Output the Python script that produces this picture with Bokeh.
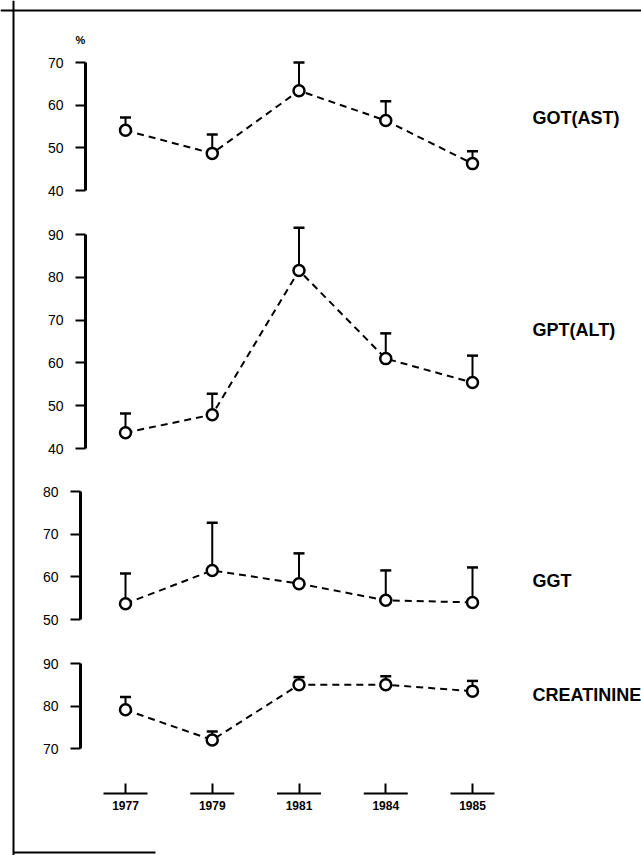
from bokeh.plotting import figure
from bokeh.models import Range1d, LinearAxis, FixedTicker, Span
from bokeh.core.properties import value
from bokeh.embed import file_html
from bokeh.resources import INLINE

# ---------------- data ----------------
years = ["1977", "1979", "1981", "1984", "1985"]
got = [54.1, 48.7, 63.4, 56.4, 46.3]
got_err = [3.0, 4.4, 6.6, 4.5, 2.9]
gpt = [43.7, 47.9, 81.6, 61.0, 55.4]
gpt_err = [4.5, 4.9, 10.0, 5.9, 6.3]
ggt = [53.7, 61.5, 58.4, 54.5, 54.0]
ggt_err = [7.1, 11.2, 7.1, 7.0, 8.2]
creat = [79.1, 72.0, 85.0, 85.0, 83.5]
creat_err = [3.0, 2.0, 1.8, 2.0, 2.4]
panel_names = ["GOT(AST)", "GPT(ALT)", "GGT", "CREATININE"]
got_ticks = [40, 50, 60, 70]
gpt_ticks = [40, 50, 60, 70, 80, 90]
ggt_ticks = [50, 60, 70, 80]
creat_ticks = [70, 80, 90]

# ---------------- layout helpers ----------------
W, H = 641, 855
PAGE_TOP, PAGE_BOT = 0, H
PAGE_LEFT, PAGE_RIGHT = 0, W
X0_PX, DX_PX = 125.0, 86.75


def xval(px):
    return (px - X0_PX) / DX_PX


def yrange(v_hi, px_hi, v_lo, px_lo):
    k = (px_lo - px_hi) / (v_hi - v_lo)
    return Range1d(start=v_lo - (PAGE_BOT - px_lo) / k, end=v_hi + (px_hi - PAGE_TOP) / k)


xs = list(range(len(years)))

p = figure(width=W, height=H, output_backend="svg", toolbar_location=None,
           x_range=Range1d(xval(PAGE_LEFT), xval(PAGE_RIGHT)),
           y_range=yrange(90, 663, 70, 748),
           x_axis_location=None, y_axis_location=None,
           min_border=0, background_fill_color="white", border_fill_color="white")
p.outline_line_color = None
p.grid.visible = False
p.extra_y_ranges = {
    "got": yrange(70, 62, 40, 190),
    "gpt": yrange(90, 234, 40, 448),
    "ggt": yrange(80, 491, 50, 619),
}

FONT = "Liberation Sans"

panels = [
    ("got", got, got_err, got_ticks, xval(85), 57.0),
    ("gpt", gpt, gpt_err, gpt_ticks, xval(85), 67.8),
    ("ggt", ggt, ggt_err, ggt_ticks, xval(80), 59.1),
    ("default", creat, creat_err, creat_ticks, xval(80), 82.7),
]

for (rname, vals, errs, tks, axis_x, label_y), name in zip(panels, panel_names):
    tops = [v + e for v, e in zip(vals, errs)]
    p.segment(x0=xs, y0=vals, x1=xs, y1=tops, line_color="black", line_width=2,
              y_range_name=rname)
    p.scatter(xs, tops, marker="dash", size=11, line_color="black", line_width=2.5,
              y_range_name=rname)
    p.line(xs, vals, line_color="black", line_width=2, line_dash="7 5", y_range_name=rname)
    p.scatter(xs, vals, marker="circle", size=11, fill_color="white", line_color="black",
              line_width=2.5, y_range_name=rname)

    ax = LinearAxis(y_range_name=rname, ticker=FixedTicker(ticks=tks),
                    bounds=(min(tks), max(tks)), fixed_location=axis_x)
    ax.axis_line_width = 3
    ax.axis_line_color = "black"
    ax.major_tick_line_width = 2
    ax.major_tick_out = 10
    ax.major_tick_in = 0
    ax.minor_tick_line_color = None
    ax.major_label_text_font = FONT
    ax.major_label_text_font_size = "14px"
    ax.major_label_text_color = "black"
    ax.major_label_standoff = 12
    p.add_layout(ax, "left")

    p.text(x=[xval(532)], y=[label_y], text=[name], y_range_name=rname,
           text_font=value(FONT), text_font_style="bold", text_font_size="18px",
           text_baseline="middle", text_align="left", text_color="black")

# percent sign
p.text(x=[xval(80)], y=[75.2], text=["%"], y_range_name="got",
       text_font=value(FONT), text_font_style="bold", text_font_size="11px",
       text_baseline="middle", text_align="center", text_color="black")

# x axis (year marks)
x_loc = 70 - (793 - 748) / 4.25
xa = LinearAxis(ticker=FixedTicker(ticks=xs),
                major_label_overrides={i: y for i, y in zip(xs, years)},
                fixed_location=x_loc)
xa.axis_line_color = None
xa.major_tick_in = 10
xa.major_tick_out = 0
xa.major_tick_line_width = 2
xa.major_tick_line_color = "black"
xa.minor_tick_line_color = None
xa.major_label_text_font = FONT
xa.major_label_text_font_size = "12px"
xa.major_label_text_font_style = "bold"
xa.major_label_text_color = "black"
xa.major_label_standoff = 7
p.add_layout(xa, "below")

half = 22 / DX_PX
p.segment(x0=[x - half for x in xs], y0=[x_loc] * len(xs),
          x1=[x + half for x in xs], y1=[x_loc] * len(xs),
          line_color="black", line_width=2)

# frame border (left, top, partial bottom)
p.add_layout(Span(location=xval(13), dimension="height", line_color="black", line_width=2))
p.add_layout(Span(location=70 + (62 - 10) / (128 / 30), dimension="width",
                  line_color="black", line_width=2, y_range_name="got"))
bot_y = 70 - (852 - 748) / 4.25
p.segment(x0=[xval(13)], y0=[bot_y], x1=[xval(155)], y1=[bot_y],
          line_color="black", line_width=2)

open("out.html", "w").write(file_html(p, INLINE))
